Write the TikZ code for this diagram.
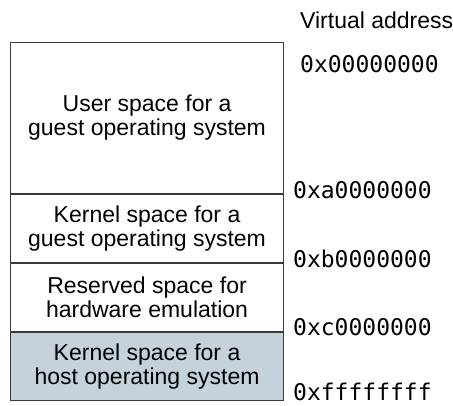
\documentclass[tikz,border=0pt]{standalone}
\usepackage{fontspec}
\setmainfont{Liberation Sans}
\setmonofont{DejaVu Sans Mono}
\usetikzlibrary{positioning}
\definecolor{Frame}{HTML}{3A3A3A}
\definecolor{HostFill}{HTML}{C3D2DB}
\tikzset{
  region/.style={draw=Frame,line width=1.1pt,minimum width=273pt,inner sep=0pt,
    align=center,font=\fontsize{23}{24}\selectfont},
  addr/.style={anchor=base west,inner sep=0pt,font=\ttfamily\fontsize{23}{24}\selectfont},
}
\begin{document}
\begin{tikzpicture}[x=1pt,y=-1pt]
    \useasboundingbox (0,0) rectangle (453,405);
    \node[anchor=base west,inner sep=0pt,font=\fontsize{23}{24}\selectfont] (title) at (300,28) {Virtual address};
    \node[region,minimum height=151pt,anchor=north west] (user) at (10,42) {User space for a\\guest operating system\vphantom{g}};
    \node[region,minimum height=68pt,below=0pt of user] (kguest) {Kernel space for a\\guest operating system};
    \node[region,minimum height=68pt,below=0pt of kguest] (reserved) {Reserved space for\\hardware emulation};
    \node[region,minimum height=68pt,below=0pt of reserved,fill=HostFill] (khost) {Kernel space for a\\host operating system};
    \node[addr] (a0) at (300,72) {0x00000000};
    \node[addr] (a1) at (293,198) {0xa0000000};
    \node[addr] (a2) at (293,267) {0xb0000000};
    \node[addr] (a3) at (293,335) {0xc0000000};
    \node[addr] (a4) at (293,400.5) {0xffffffff};
  \end{tikzpicture}
\end{document}
